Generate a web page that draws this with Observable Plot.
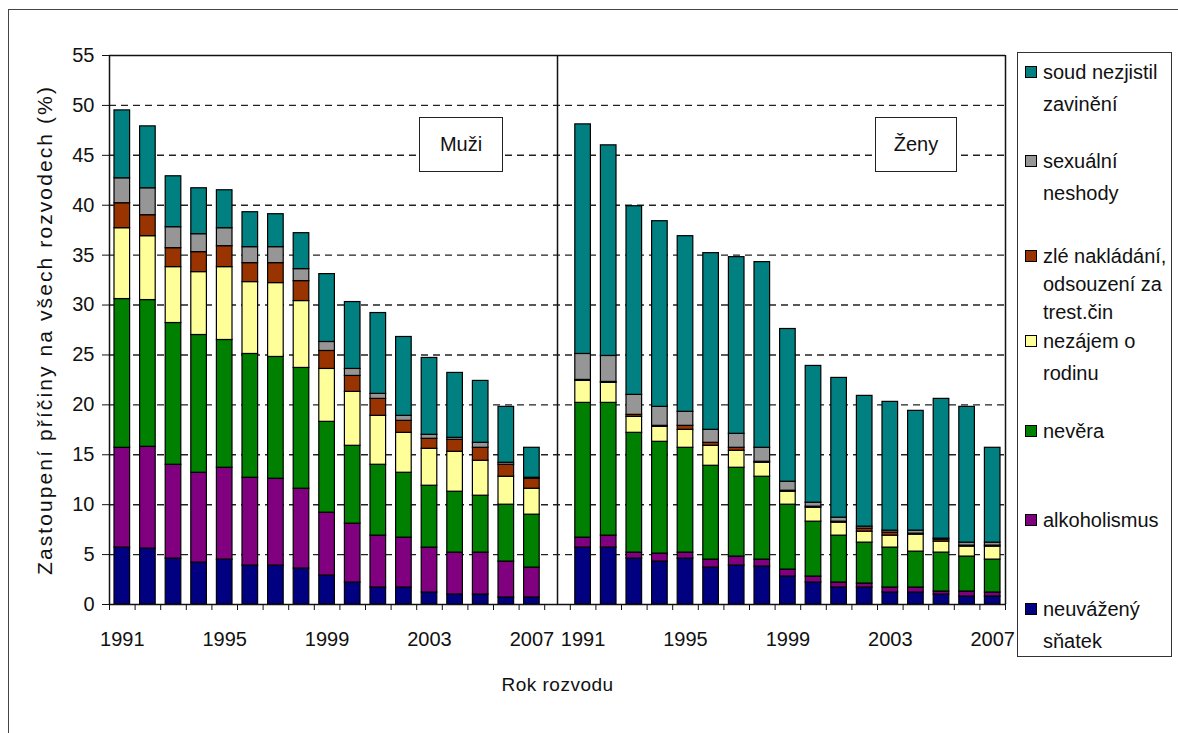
<!DOCTYPE html>
<html>
<head>
<meta charset="utf-8">
<script src="https://cdn.jsdelivr.net/npm/d3@7"></script>
<script src="https://cdn.jsdelivr.net/npm/@observablehq/plot@0.6"></script>
<style>
  body { margin: 0; background: #fff; }
  #wrap { position: relative; width: 1178px; height: 733px; overflow: hidden; font-family: "Liberation Sans", Arial, sans-serif; color: #111; }
  #frame { position: absolute; left: 8px; top: 9px; width: 1300px; height: 900px; border: 1.5px solid #444; }
  #chart { position: absolute; left: 0; top: 0; }
  .lab { position: absolute; border: 1.5px solid #222; background: #fff; font-size: 20px; display: flex; align-items: center; justify-content: center; box-sizing: border-box; }
  #legend { position: absolute; left: 1017px; top: 52px; width: 155px; height: 605px; border: 1.5px solid #333; background: #fff; box-sizing: border-box; }
  .item { position: absolute; left: 0; width: 150px; font-size: 20px; }
  .sw { position: absolute; left: 7px; width: 10px; height: 10px; border: 1px solid #000; }
  .tx { position: absolute; left: 25px; white-space: nowrap; }
</style>
</head>
<body>
<div id="wrap">
  <div id="frame"></div>
  <div id="chart"></div>
  <div class="lab" style="left:419px;top:117px;width:84px;height:55px;">Muži</div>
  <div class="lab" style="left:875px;top:117px;width:82px;height:55px;">Ženy</div>
  <div id="legend"></div>
</div>
<script>
// ---- data ----
const years = [1991,1992,1993,1994,1995,1996,1997,1998,1999,2000,2001,2002,2003,2004,2005,2006,2007];
const causes = [
  "neuvážený sňatek",
  "alkoholismus",
  "nevěra",
  "nezájem o rodinu",
  "zlé nakládání, odsouzení za trest.čin",
  "sexuální neshody",
  "soud nezjistil zavinění"
];
const causeColors = ["#000080", "#800080", "#008000", "#FFFF99", "#993300", "#969696", "#008080"];

// Muži (men), bottom to top
const menNeuvazeny   = [5.7,5.6,4.6,4.2,4.5,3.9,3.9,3.6,2.9,2.2,1.7,1.7,1.2,1.0,1.0,0.7,0.7];
const menAlkohol     = [10.0,10.2,9.4,9.0,9.2,8.8,8.7,8.0,6.3,5.9,5.2,5.0,4.5,4.2,4.2,3.6,3.0];
const menNevera      = [14.9,14.7,14.2,13.8,12.8,12.4,12.2,12.1,9.1,7.8,7.1,6.5,6.2,6.1,5.7,5.7,5.3];
const menNezajem     = [7.1,6.4,5.6,6.3,7.3,7.2,7.4,6.7,5.3,5.4,4.9,4.0,3.7,4.0,3.5,2.8,2.6];
const menZle         = [2.5,2.1,1.9,2.0,2.1,1.9,2.0,2.0,1.8,1.6,1.7,1.2,1.0,1.2,1.3,1.2,1.0];
const menSexualni    = [2.5,2.7,2.1,1.8,1.8,1.6,1.6,1.2,0.9,0.7,0.5,0.5,0.4,0.2,0.5,0.2,0.1];
const menSoud        = [6.8,6.2,5.1,4.6,3.8,3.5,3.3,3.6,6.8,6.7,8.1,7.9,7.7,6.5,6.2,5.6,3.0];

// Ženy (women), bottom to top
const womenNeuvazeny = [5.7,5.7,4.6,4.3,4.6,3.7,3.9,3.8,2.8,2.2,1.7,1.7,1.2,1.2,1.0,0.8,0.8];
const womenAlkohol   = [1.0,1.2,0.6,0.8,0.6,0.8,0.9,0.7,0.7,0.6,0.5,0.4,0.5,0.5,0.3,0.5,0.4];
const womenNevera    = [13.5,13.3,12.0,11.2,10.5,9.4,8.9,8.3,6.5,5.5,4.7,4.1,4.0,3.6,3.9,3.5,3.3];
const womenNezajem   = [2.2,2.0,1.6,1.5,1.8,2.0,1.7,1.4,1.3,1.4,1.3,1.1,1.2,1.7,1.1,1.0,1.3];
const womenZle       = [0.1,0.1,0.2,0.1,0.4,0.3,0.3,0.1,0.1,0.1,0.1,0.3,0.3,0.1,0.2,0.1,0.1];
const womenSexualni  = [2.6,2.6,2.0,1.9,1.4,1.3,1.4,1.4,0.9,0.4,0.4,0.2,0.2,0.3,0.1,0.3,0.3];
const womenSoud      = [23.0,21.1,18.9,18.6,17.6,17.7,17.7,18.6,15.3,13.7,14.0,13.1,12.9,12.0,14.0,13.6,9.5];

const yTicks = [0,5,10,15,20,25,30,35,40,45,50,55];
const gridValues = [5,10,15,20,25,30,35,40,45,50];
const labeledYears = [1991,1995,1999,2003,2007];
const yTitle = "Zastoupení příčiny na všech rozvodech (%)";
const xTitle = "Rok rozvodu";

// ---- build table ----
const menSeries = [menNeuvazeny, menAlkohol, menNevera, menNezajem, menZle, menSexualni, menSoud];
const womenSeries = [womenNeuvazeny, womenAlkohol, womenNevera, womenNezajem, womenZle, womenSexualni, womenSoud];
const panels = [{offset: 0, series: menSeries}, {offset: years.length + 1, series: womenSeries}];
const rows = [];
for (const p of panels) {
  years.forEach((yr, i) => {
    causes.forEach((c, k) => {
      rows.push({slot: p.offset + i, year: yr, cause: c, value: p.series[k][i]});
    });
  });
}
const nSlots = years.length * 2 + 1;
const boundaries = d3.range(0, nSlots + 1);
const labelMap = new Map();
for (const p of panels) years.forEach((yr, i) => { if (labeledYears.includes(yr)) labelMap.set(p.offset + i + 0.5, String(yr)); });
const labelSlots = [...labelMap.keys()];
const divider = years.length + 0.5;

const chart = Plot.plot({
  width: 1178,
  height: 733,
  marginLeft: 109,
  marginRight: 173,
  marginTop: 55,
  marginBottom: 129,
  x: {domain: [0, nSlots], axis: null, label: null},
  y: {domain: [0, 55], axis: null, label: null},
  color: {domain: causes, range: causeColors},
  style: {fontFamily: "'Liberation Sans', Arial, sans-serif", fontSize: "20px", color: "#111", background: "transparent"},
  marks: [
    Plot.ruleY(gridValues, {stroke: "#222", strokeWidth: 1.4, strokeDasharray: "7,5"}),
    Plot.rectY(rows, {x1: "slot", x2: d => d.slot + 1, y: "value", fill: "cause", stroke: "#000", strokeWidth: 1.2, insetLeft: 5, insetRight: 5}),
    Plot.ruleY([0, 55], {stroke: "#111", strokeWidth: 1.5}),
    Plot.ruleX([0, divider, nSlots], {stroke: "#111", strokeWidth: 1.5}),
    Plot.axisY({ticks: yTicks, tickSize: 7, tickPadding: 8, tickFormat: d => String(d), label: null, fontSize: 20}),
    Plot.axisX({ticks: boundaries, tickSize: 6, tickFormat: () => "", label: null}),
    Plot.axisX({ticks: labelSlots, tickSize: 0, tickPadding: 27, tickFormat: s => labelMap.get(s), label: null, fontSize: 20}),
    Plot.text([xTitle], {frameAnchor: "bottom", dy: 86, fontSize: 19, fill: "#111"}),
    Plot.text([yTitle], {frameAnchor: "left", textAnchor: "middle", rotate: -90, dx: -64, fontSize: 21, fill: "#111"})
  ]
});
document.getElementById("chart").appendChild(chart);
d3.select(chart).selectAll("text").filter(function() { return this.textContent === yTitle; }).attr("letter-spacing", "2.1px");
d3.select(chart).selectAll("text").filter(function() { return this.textContent === xTitle; }).attr("letter-spacing", "0.5px");

// ---- legend (top to bottom, reversed order of stack) ----
const legendLines = [
  {cause: causes[6], lines: ["soud nezjistil", "zavinění"], center: 19, lh: 32},
  {cause: causes[5], lines: ["sexuální", "neshody"], center: 108, lh: 32},
  {cause: causes[4], lines: ["zlé nakládání,", "odsouzení za", "trest.čin"], center: 203, lh: 28},
  {cause: causes[3], lines: ["nezájem o", "rodinu"], center: 288, lh: 32},
  {cause: causes[2], lines: ["nevěra"], center: 378, lh: 32},
  {cause: causes[1], lines: ["alkoholismus"], center: 467, lh: 32},
  {cause: causes[0], lines: ["neuvážený", "sňatek"], center: 556, lh: 32}
];
const legend = document.getElementById("legend");
for (const e of legendLines) {
  const item = document.createElement("div");
  item.className = "item";
  item.style.top = (e.center - e.lh / 2) + "px";
  const sw = document.createElement("div");
  sw.className = "sw";
  sw.style.background = causeColors[causes.indexOf(e.cause)];
  sw.style.top = (e.lh / 2 - 6) + "px";
  const tx = document.createElement("div");
  tx.className = "tx";
  tx.style.lineHeight = e.lh + "px";
  tx.innerHTML = e.lines.join("<br>");
  item.appendChild(sw);
  item.appendChild(tx);
  legend.appendChild(item);
}
</script>
</body>
</html>
